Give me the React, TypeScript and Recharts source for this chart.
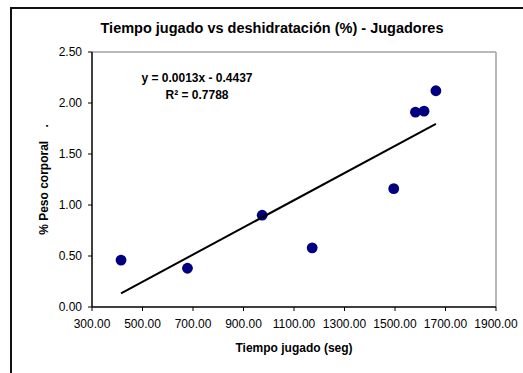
import { ScatterChart, Scatter, XAxis, YAxis, ReferenceLine } from 'recharts';

const tiempo = [415, 678, 974, 1172, 1495, 1581, 1615, 1662];
const peso = [0.46, 0.38, 0.9, 0.58, 1.16, 1.91, 1.92, 2.12];
const xTicks = [300, 500, 700, 900, 1100, 1300, 1500, 1700, 1900];
const yTicks = [0, 0.5, 1, 1.5, 2, 2.5];

const points = tiempo.map((x, i) => ({ x, y: peso[i] }));

// linear trendline (least squares) over the data range
const n = tiempo.length;
const mx = tiempo.reduce((a, b) => a + b, 0) / n;
const my = peso.reduce((a, b) => a + b, 0) / n;
let sxy = 0;
let sxx = 0;
tiempo.forEach((x, i) => {
  sxy += (x - mx) * (peso[i] - my);
  sxx += (x - mx) * (x - mx);
});
const slope = sxy / sxx;
const intercept = my - slope * mx;
const xMin = Math.min(...tiempo);
const xMax = Math.max(...tiempo);
const trend = [
  { x: xMin, y: slope * xMin + intercept },
  { x: xMax, y: slope * xMax + intercept },
];

const font = '"Liberation Sans", Arial, sans-serif';
const tickStyle = { fontSize: 12, fill: '#000', fontFamily: font };

const Dot = (props: any) => <circle cx={props.cx} cy={props.cy} r={5.4} fill="#000080" />;

export default function App() {
  return (
    <div
      style={{
        position: 'absolute',
        left: 0,
        top: 0,
        width: 523,
        height: 373,
        overflow: 'hidden',
        background: '#fff',
        fontFamily: font,
      }}
    >
      <div
        style={{
          position: 'absolute',
          left: 9.5,
          top: 7,
          width: 600,
          height: 500,
          borderTop: '2px solid #111',
          borderLeft: '2px solid #111',
        }}
      />
      <div
        style={{
          position: 'absolute',
          left: 72,
          width: 400,
          top: 19,
          textAlign: 'center',
          fontSize: 14.5,
          fontWeight: 'bold',
          lineHeight: '18px',
        }}
      >
        Tiempo jugado vs deshidratación (%) - Jugadores
      </div>
      <ScatterChart
        width={523}
        height={373}
        margin={{ top: 52, right: 27, bottom: 0, left: 0 }}
        style={{ position: 'absolute', left: 0, top: 0 }}
      >
        <XAxis
          dataKey="x"
          type="number"
          domain={[300, 1900]}
          ticks={xTicks}
          tickFormatter={(v: number) => v.toFixed(2)}
          height={66}
          tick={tickStyle}
          tickSize={4}
          tickMargin={8}
          interval={0}
          axisLine={{ stroke: '#000', strokeWidth: 1.5 }}
          tickLine={{ stroke: '#000' }}
          label={{
            value: 'Tiempo jugado (seg)',
            position: 'insideBottom',
            offset: 21,
            style: { fontSize: 12, fontWeight: 'bold', fill: '#000', fontFamily: font },
          }}
        />
        <YAxis
          dataKey="y"
          type="number"
          domain={[0, 2.5]}
          ticks={yTicks}
          tickFormatter={(v: number) => v.toFixed(2)}
          width={92}
          tick={tickStyle}
          tickSize={4}
          tickMargin={6}
          interval={0}
          axisLine={{ stroke: '#000', strokeWidth: 1.5 }}
          tickLine={{ stroke: '#000' }}
          label={{
            value: '% Peso corporal\u00a0\u00a0\u00a0\u00a0.',
            angle: -90,
            position: 'insideLeft',
            offset: 44,
            style: { textAnchor: 'middle', fontSize: 12, fontWeight: 'bold', fill: '#000', fontFamily: font },
          }}
        />
        <ReferenceLine y={2.5} stroke="#a0a0a0" strokeWidth={1.5} />
        <ReferenceLine x={1900} stroke="#a0a0a0" strokeWidth={1.5} />
        <Scatter data={points} fill="#000080" shape={Dot} isAnimationActive={false} />
        <Scatter
          data={trend}
          line={{ stroke: '#000', strokeWidth: 2 }}
          shape={() => <g />}
          isAnimationActive={false}
        />
      </ScatterChart>
      <div
        style={{
          position: 'absolute',
          left: 97,
          width: 200,
          top: 70,
          textAlign: 'center',
          fontSize: 12,
          fontWeight: 'bold',
          lineHeight: '17px',
        }}
      >
        <div>y = 0.0013x - 0.4437</div>
        <div>R² = 0.7788</div>
      </div>
    </div>
  );
}
